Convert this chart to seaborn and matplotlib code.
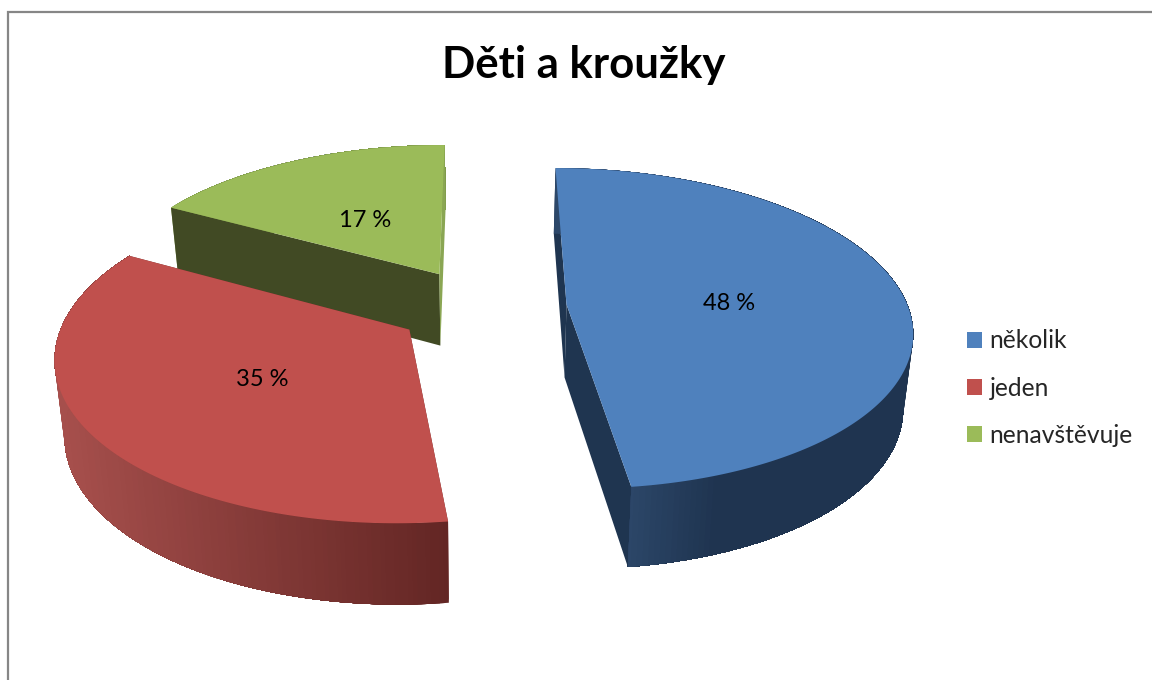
import numpy as np
import seaborn as sns
import matplotlib.pyplot as plt
from matplotlib.patches import Patch, Polygon

categories = ["několik", "jeden", "nenavštěvuje"]
values = [48, 35, 17]
title = "Děti a kroužky"

top_colors = ["#4f81bd", "#c0504d", "#9bbb59"]
# cut faces of each slice (start edge, end edge)
cut_colors = [("#1f3550", "#1f3550"), ("#6b2b29", "#6b2b29"), ("#414a24", "#8aa653")]
# outer wall shading, left to right in pixels
ramps = [(630, 720, "#2c4769", "#1f3450"),
         (60, 447, "#a64f4c", "#632624"),
         (170, 446, "#7f9a4a", "#7f9a4a")]

# pie projection, pixels
cx, cy = 481.5, 307
R, S, k = 341.5, 157.4, 0.149
explode = 0.25
depth = 73


def project(u, v):
    w = 1 + k * v
    return cx + R * u / w, cy - S * v / w


def lower(x, y, v):
    return cx + (x - cx) * 0.977, y + depth * (1 - 0.1 * v)


sns.set_theme(style="white")
plt.rcParams["font.family"] = ["Lato", "DejaVu Sans"]

fig = plt.figure(figsize=(11.52, 6.8), dpi=100)
ax = fig.add_axes([0, 0, 1, 1])
ax.set_xlim(0, 1152)
ax.set_ylim(680, 0)
ax.axis("off")

ax.plot([7.5, 7.5, 1152], [680, 12, 12], color="#868686", lw=1.6, solid_joinstyle="miter")

edges = np.cumsum([0] + values) / sum(values) * 2 * np.pi
# back slice first so the nearer ones cover it
for rank, i in enumerate([2, 1, 0]):
    a0, a1 = edges[i], edges[i + 1]
    mid = (a0 + a1) / 2
    ou, ov = explode * np.sin(mid), explode * np.cos(mid)
    t = np.linspace(a0, a1, 400)
    u = ou + np.sin(t)
    v = ov + np.cos(t)
    x, y = project(u, v)
    xb, yb = lower(x, y, v)
    px, py = project(ou, ov)
    pxb, pyb = lower(px, py, ov)

    # green shows its cut face in front of the wall, the others the wall
    z_base = 3 + rank * 3
    z_cut = z_base + 1 if i == 2 else z_base
    z_wall = z_base if i == 2 else z_base + 1

    # cut faces
    ax.add_patch(Polygon([(px, py), (x[0], y[0]), (xb[0], yb[0]), (pxb, pyb)],
                         fc=cut_colors[i][0], ec="none", zorder=z_cut))
    ax.add_patch(Polygon([(px, py), (x[-1], y[-1]), (xb[-1], yb[-1]), (pxb, pyb)],
                         fc=cut_colors[i][1], ec="none", zorder=z_cut))

    # outer wall, each band covers the rest of the wall so no seams show
    x0, x1, c0, c1 = ramps[i]
    shades = sns.blend_palette([c0, c1], n_colors=60)
    for j in range(0, len(t) - 1, 2):
        s = np.clip((x[j] - x0) / (x1 - x0), 0, 1)
        wall = np.r_[np.c_[x[j:], y[j:]], np.c_[xb[j:], yb[j:]][::-1]]
        ax.add_patch(Polygon(wall, fc=shades[int(s * 59)], ec="none", zorder=z_wall))

    # top face
    ax.add_patch(Polygon(np.r_[[[px, py]], np.c_[x, y]], fc=top_colors[i], ec="none",
                         zorder=z_base + 2))

    lx, ly = project(ou + 0.48 * np.sin(mid), ov + 0.48 * np.cos(mid))
    ax.text(lx, ly + 4, f"{values[i]} %", ha="center", va="center", fontsize=17,
            color="black", zorder=20)

ax.text(584, 65, title, ha="center", va="center", fontsize=31.5, fontweight="bold", color="black")

handles = [Patch(fc=c, ec="none", label=n) for c, n in zip(top_colors, categories)]
ax.legend(handles=handles, loc="center left", bbox_to_anchor=(967 / 1152, 1 - 388 / 680),
          frameon=False, fontsize=17.7, handlelength=0.62, handleheight=0.62,
          handletextpad=0.3, labelspacing=0.98, borderpad=0, borderaxespad=0)

fig.savefig("out.png", dpi=100)
